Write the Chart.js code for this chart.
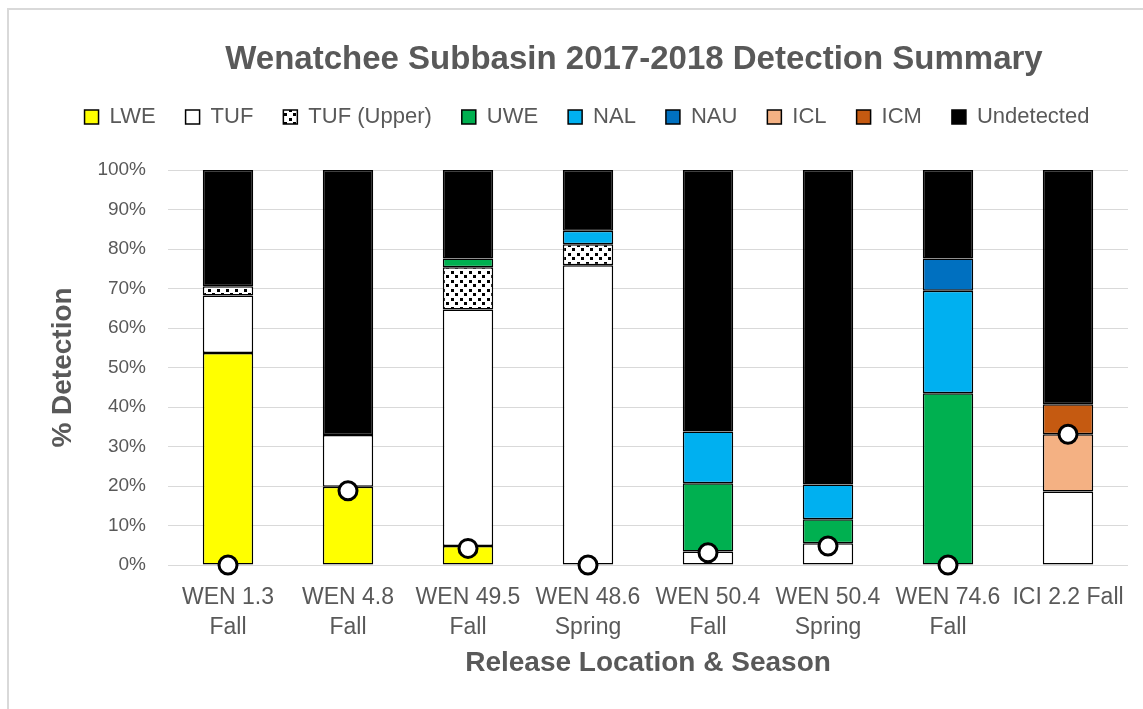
<!DOCTYPE html>
<html>
<head>
<meta charset="utf-8">
<script src="https://cdn.jsdelivr.net/npm/chart.js@4.4.1/dist/chart.umd.min.js"></script>
<style>
  html, body { margin: 0; padding: 0; background: #ffffff; }
  #wrap { position: relative; width: 1143px; height: 709px; overflow: hidden; }
  #frame { position: absolute; left: 7px; top: 8px; width: 1300px; height: 900px;
           border-left: 2px solid #d9d9d9; border-top: 2px solid #d9d9d9; pointer-events: none; }
</style>
</head>
<body>
<div id="wrap">
  <canvas id="c" width="1143" height="709"></canvas>
  <div id="frame"></div>
</div>
<script>
const categories = [
  ["WEN 1.3", "Fall"], ["WEN 4.8", "Fall"], ["WEN 49.5", "Fall"], ["WEN 48.6", "Spring"],
  ["WEN 50.4", "Fall"], ["WEN 50.4", "Spring"], ["WEN 74.6", "Fall"], "ICI 2.2 Fall"
];
const LWE        = [53.7, 19.8, 4.8, 0, 0, 0, 0, 0];
const TUF        = [14.5, 13.1, 59.9, 75.9, 3.4, 5.5, 0, 18.6];
const TUF_Upper  = [2.4, 0, 10.7, 5.3, 0, 0, 0, 0];
const UWE        = [0, 0, 2.2, 0, 17.3, 6.1, 43.5, 0];
const NAL        = [0, 0, 0, 3.4, 13.1, 8.8, 25.9, 0];
const NAU        = [0, 0, 0, 0, 0, 0, 8.2, 0];
const ICL        = [0, 0, 0, 0, 0, 0, 0, 14.5];
const ICM        = [0, 0, 0, 0, 0, 0, 0, 7.6];
const Undetected = [29.4, 67.1, 22.4, 15.4, 66.2, 79.6, 22.4, 59.3];
const Markers    = [0, 18.8, 4.2, 0, 3.1, 4.8, 0, 33.1];
const yTicks     = [0, 10, 20, 30, 40, 50, 60, 70, 80, 90, 100];

const titleText = "Wenatchee Subbasin 2017-2018 Detection Summary";
const textColor = "#595959";
const fontFam = "'Liberation Sans', Arial, sans-serif";

// dotted pattern for TUF (Upper)
function dotPattern() {
  const t = document.createElement('canvas');
  t.width = 9; t.height = 9;
  const g = t.getContext('2d');
  g.fillStyle = '#ffffff'; g.fillRect(0, 0, 9, 9);
  g.fillStyle = '#000000';
  g.fillRect(1, 1, 3, 3);
  g.fillRect(5, 5, 3, 3);
  return g.createPattern(t, 'repeat');
}
const pat = dotPattern();
const nz = a => a.map(v => v === 0 ? null : v);

const series = [
  ["LWE", LWE, "#FFFF00"],
  ["TUF", TUF, "#FFFFFF"],
  ["TUF (Upper)", TUF_Upper, pat],
  ["UWE", UWE, "#00B050"],
  ["NAL", NAL, "#00B0F0"],
  ["NAU", NAU, "#0070C0"],
  ["ICL", ICL, "#F4B183"],
  ["ICM", ICM, "#C55A11"],
  ["Undetected", Undetected, "#000000"]
];

const datasets = series.map(([label, d, col]) => ({
  type: 'bar',
  label: label,
  data: nz(d),
  backgroundColor: col,
  borderColor: '#000000',
  borderWidth: 1.5,
  borderSkipped: false,
  categoryPercentage: 1.0,
  barPercentage: 0.42,
  stack: 's'
}));
datasets.push({
  type: 'line',
  label: 'marker',
  data: Markers,
  yAxisID: 'y2',
  showLine: false,
  pointRadius: 9,
  pointHoverRadius: 9,
  pointBackgroundColor: '#FFFFFF',
  pointBorderColor: '#000000',
  pointBorderWidth: 3,
  clip: false,
  order: -1
});

const titlePlugin = {
  id: 'customTitle',
  afterDraw(chart) {
    const ctx = chart.ctx, a = chart.chartArea;
    ctx.save();
    ctx.font = "bold 33px " + fontFam;
    ctx.fillStyle = textColor;
    ctx.textAlign = 'center';
    ctx.textBaseline = 'middle';
    ctx.fillText(titleText, (a.left + a.right) / 2 - 14, 60);
    ctx.restore();
  }
};

const legendGap = {
  id: 'legendGap',
  beforeUpdate(chart) {
    const l = chart.legend;
    if (l && !l._gapPatched) {
      const f = l.fit;
      l.fit = function () { f.call(this); this.height += 32; };
      l._gapPatched = true;
    }
  }
};

new Chart(document.getElementById('c'), {
  type: 'bar',
  data: { labels: categories, datasets: datasets },
  plugins: [titlePlugin, legendGap],
  options: {
    responsive: false,
    devicePixelRatio: 1,
    animation: false,
    layout: { padding: { left: 46, right: 15, top: 76, bottom: 29 } },
    plugins: {
      tooltip: { enabled: false },
      title: { display: false },
      legend: {
        position: 'top',
        labels: {
          filter: item => item.text !== 'marker',
          boxWidth: 14, boxHeight: 14,
          color: textColor,
          padding: 30,
          font: { family: fontFam, size: 22 }
        }
      }
    },
    scales: {
      x: {
        stacked: true,
        grid: { display: false },
        border: { display: false },
        afterFit: s => { s.height = 115; },
        ticks: {
          autoSkip: false, maxRotation: 0, minRotation: 0,
          color: textColor, padding: 10,
          font: { family: fontFam, size: 23, lineHeight: 1.3 }
        },
        title: {
          display: true, text: 'Release Location & Season', color: textColor,
          font: { family: fontFam, size: 28, weight: 'bold' },
          padding: { top: 0, bottom: 0 }
        }
      },
      y: {
        stacked: true,
        min: 0, max: 100,
        afterBuildTicks: s => { s.ticks = yTicks.map(v => ({ value: v })); },
        afterFit: s => { s.width = 122; },
        grid: { color: '#d9d9d9', lineWidth: 1, drawTicks: false },
        border: { display: false },
        ticks: {
          color: textColor, padding: 22,
          font: { family: fontFam, size: 19 },
          callback: v => v + '%'
        },
        title: {
          display: true, text: '% Detection', color: textColor,
          font: { family: fontFam, size: 28, weight: 'bold' },
          padding: { top: 0, bottom: 0 }
        }
      },
      y2: {
        display: false, min: 0, max: 100
      }
    }
  }
});
</script>
</body>
</html>
